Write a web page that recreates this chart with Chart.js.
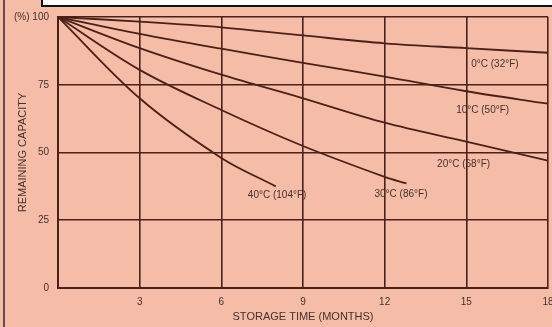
<!DOCTYPE html>
<html>
<head>
<meta charset="utf-8">
<script src="https://cdn.jsdelivr.net/npm/chart.js@4.4.1/dist/chart.umd.min.js"></script>
<style>
  html, body { margin: 0; padding: 0; background: #f5bda7; }
  #wrap { position: relative; width: 552px; height: 327px; overflow: hidden; }
  #topbox { position: absolute; left: 41px; top: -3px; width: 520px; height: 6px;
            background: #fff; border: 2px solid #111; }
  #leftline { position: absolute; left: 3px; top: 0; width: 2px; height: 327px; background: #6a4a44; }
</style>
</head>
<body>
<div id="wrap">
  <canvas id="chart" width="552" height="327"></canvas>
  <div id="topbox"></div>
  <div id="leftline"></div>
</div>
<script>
// storage time in months, and remaining capacity (%) per temperature
const months = [0, 3, 6, 9, 12, 15, 18];
const cap0C = [100, 98.3, 96.2, 93.2, 90.3, 88.5, 86.8];
const cap10C = [100, 93.8, 88.3, 83.1, 78, 72.6, 68];
const cap20C = [100, 88.5, 78.7, 70, 61, 54, 47];
const months30C = [0, 3, 6, 9, 12, 12.8];
const cap30C = [100, 80.5, 65.7, 52.4, 41, 38.6];
const months40C = [0, 3, 6, 8];
const cap40C = [100, 70, 48, 37.5];

const seriesNames = ['0°C (32°F)', '10°C (50°F)', '20°C (68°F)', '30°C (86°F)', '40°C (104°F)'];
// where each curve name sits, in months / percent
const labelMonths = [16.05, 15.6, 14.9, 12.6, 8.05];
const labelValues = [82.7, 65.7, 45.8, 34.7, 34.3];

const xTicks = [0, 3, 6, 9, 12, 15, 18];
const yTicks = [0, 25, 50, 75, 100];

const ink = '#4b2018';
const textInk = '#45302c';
const font = 'Liberation Sans, Arial, sans-serif';

function pts(xs, ys) {
  return xs.map((x, i) => ({ x: x, y: ys[i] }));
}

const curveLabels = {
  id: 'curveLabels',
  afterDatasetsDraw(chart) {
    const ctx = chart.ctx;
    const xs = chart.scales.x, ys = chart.scales.y;
    ctx.save();
    ctx.fillStyle = textInk;
    ctx.font = '10px ' + font;
    ctx.textAlign = 'center';
    ctx.textBaseline = 'middle';
    seriesNames.forEach((name, i) => {
      ctx.fillText(name, xs.getPixelForValue(labelMonths[i]), ys.getPixelForValue(labelValues[i]));
    });
    ctx.restore();
  }
};

const lineStyle = {
  borderColor: ink,
  borderWidth: 1.8,
  pointRadius: 0,
  fill: false,
  tension: 0.35
};

const ctx = document.getElementById('chart').getContext('2d');
const chart = new Chart(ctx, {
  type: 'line',
  data: {
    datasets: [
      Object.assign({ label: seriesNames[0], data: pts(months, cap0C) }, lineStyle),
      Object.assign({ label: seriesNames[1], data: pts(months, cap10C) }, lineStyle),
      Object.assign({ label: seriesNames[2], data: pts(months, cap20C) }, lineStyle),
      Object.assign({ label: seriesNames[3], data: pts(months30C, cap30C) }, lineStyle),
      Object.assign({ label: seriesNames[4], data: pts(months40C, cap40C) }, lineStyle)
    ]
  },
  options: {
    responsive: false,
    animation: false,
    layout: {
      padding: { top: 17, right: 4, left: 0, bottom: 0 }
    },
    plugins: {
      legend: { display: false },
      tooltip: { enabled: false }
    },
    scales: {
      x: {
        type: 'linear',
        min: 0,
        max: 18,
        afterBuildTicks: function(scale) {
          scale.ticks = xTicks.map(v => ({ value: v }));
        },
        afterFit: function(scale) {
          scale.height = 39;
          scale.paddingLeft = 0;
          scale.paddingRight = 0;
        },
        grid: { color: ink, lineWidth: 1.6, drawTicks: false },
        border: { color: ink, width: 2 },
        ticks: {
          color: textInk,
          padding: 8,
          maxRotation: 0,
          font: { family: font, size: 10 },
          callback: function(value) {
            return value === 0 ? '' : String(value);
          }
        },
        title: {
          display: true,
          text: 'STORAGE TIME (MONTHS)',
          color: textInk,
          font: { family: font, size: 11 },
          padding: { top: 0, bottom: 3 }
        }
      },
      y: {
        min: 0,
        max: 100,
        afterBuildTicks: function(scale) {
          scale.ticks = yTicks.map(v => ({ value: v }));
        },
        afterFit: function(scale) {
          scale.width = 58;
          scale.paddingTop = 0;
          scale.paddingBottom = 0;
        },
        grid: { color: ink, lineWidth: 1.6, drawTicks: false },
        border: { color: ink, width: 2 },
        ticks: {
          color: textInk,
          padding: 9,
          font: { family: font, size: 10 },
          callback: function(value) {
            return value === 100 ? '(%) 100' : String(value);
          }
        },
        title: {
          display: true,
          text: 'REMAINING CAPACITY',
          color: textInk,
          font: { family: font, size: 11 },
          padding: { top: 16, bottom: 0 }
        }
      }
    }
  },
  plugins: [curveLabels]
});
</script>
</body>
</html>
